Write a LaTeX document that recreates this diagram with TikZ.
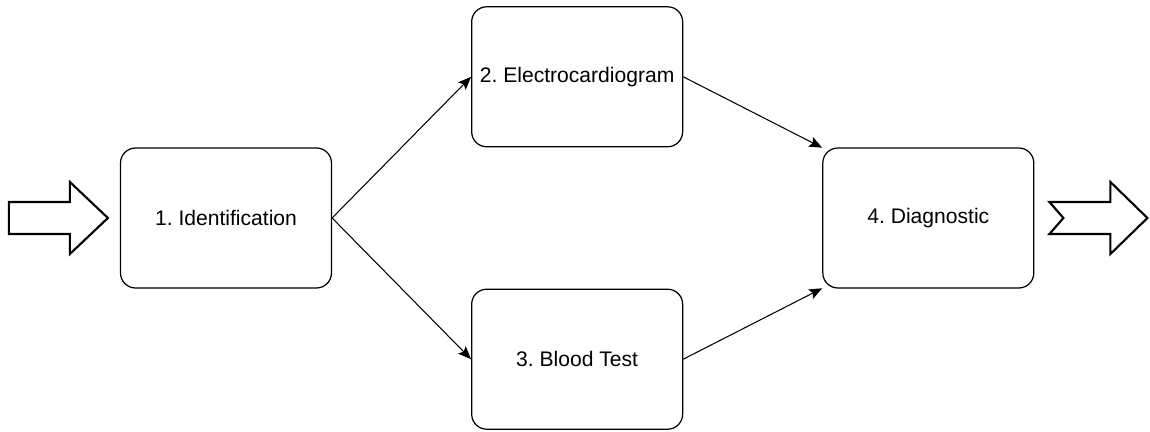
\documentclass[tikz,border=0pt]{standalone}
\usepackage{fontspec}
\setmainfont{Liberation Sans}
\usepackage{xcolor}
\usepackage{tikz}
\usetikzlibrary{arrows.meta,positioning}
\frenchspacing
\tikzset{
    stage/.style={rectangle, rounded corners=0.3cm, draw=black, line width=0.7pt,
        minimum width=4.22cm, minimum height=2.8cm, align=center,
        font=\fontsize{12}{14}\selectfont, fill=white},
    flow/.style={-{Stealth[length=2.6mm,width=2.1mm,inset=0.5mm]}, line width=0.6pt, draw=black},
    blockarrow/.style={draw=black, line width=1.2pt, fill=white, line join=miter}
}

\begin{document}
\begin{tikzpicture}[x=0.02cm, y=0.02cm, node distance=0cm and 2.78cm]
        \useasboundingbox (0,0) rectangle (1150,-432);
        \node[stage] (one) at (226,-218) {1. Identification};
        \node[stage,above right=of one] (two) {2. Electrocardiogram};
        \node[stage,below right=of one] (three) {3. Blood Test};
        \node[stage,below right=of two] (four) {4. Diagnostic};
        \coordinate (fourtop) at ([yshift=40]four.west);
        \coordinate (fourbot) at ([yshift=-40]four.west);
        \draw[flow] (one.east) -- (two.west);
        \draw[flow] (one.east) -- (three.west);
        \draw[flow] (two.east) -- (fourtop);
        \draw[flow] (three.east) -- (fourbot);
        % entry and exit arrows
        \draw[blockarrow, shift={(one.west)}] (-111,16) -- (-50,16) -- (-50,36) -- (-12,0)
            -- (-50,-36) -- (-50,-16) -- (-111,-16) -- cycle;
        \draw[blockarrow, shift={(four.east)}] (15,16) -- (76,16) -- (76,36) -- (113,0)
            -- (76,-36) -- (76,-16) -- (15,-16) -- (29,0) -- cycle;
    \end{tikzpicture}
\end{document}
